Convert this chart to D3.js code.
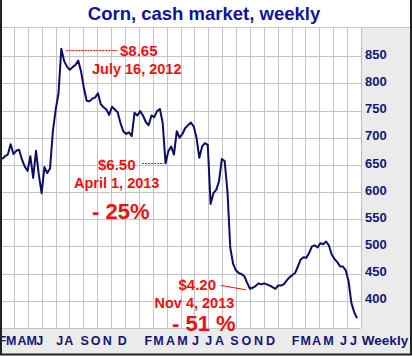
<!DOCTYPE html>
<html><head><meta charset="utf-8">
<script src="https://cdn.jsdelivr.net/npm/d3@7"></script>
<style>html,body{margin:0;padding:0;background:#fff}svg{display:block}</style>
</head><body>
<script>
// ---- data (cents per bushel, weekly, starting Mon Feb 13 2012) ----
const startDate = new Date(2012, 1, 13);
const values = [
661,666,669,688,670,676,678,660,647,639,
666,626,676,632,598,646,635,644,712,752,
782,864,841,831,825,830,834,842,822,792,
768,767,772,774,782,762,756,752,742,757,
752,747,727,712,707,710,703,746,741,749,
741,729,723,741,738,749,753,727,653,675,
684,669,712,700,707,718,723,728,721,700,
663,684,690,687,578,598,604,620,661,657,
601,497,468,456,451,449,445,433,422,424,
427,432,430,432,430,428,425,422,428,428,
430,437,443,447,451,463,476,480,479,488,
500,502,498,506,504,509,502,485,477,471,
463,463,456,436,396,379,368
];
const yTicks = [400,450,500,550,600,650,700,750,800,850];
// month letters as placed on the reference's time axis (January has no label)
const monthTickLabels = ["F","M","A","M","J","J","A","S","O","N","D",
                         "F","M","A","M","J","J","A","S","O","N","D",
                         "F","M","A","M","J","J"];
const monthTickDates = ["2012-02-12","2012-03-05","2012-04-01","2012-04-25","2012-05-15",
  "2012-07-04","2012-07-26","2012-09-04","2012-10-01","2012-10-30","2012-12-06",
  "2013-02-09","2013-03-06","2013-04-05","2013-05-05","2013-06-06","2013-07-09",
  "2013-08-05","2013-09-11","2013-10-11","2013-11-10","2013-12-10",
  "2014-02-10","2014-03-07","2014-04-03","2014-05-03","2014-06-09","2014-07-04"];
const title = "Corn, cash market, weekly";
const annotations = [
  {text:"$8.65", x:120, y:51, size:15},
  {text:"July 16, 2012", x:92, y:69, size:14.5},
  {text:"$6.50", x:98, y:165, size:15},
  {text:"April 1, 2013", x:74, y:182.5, size:14.5},
  {text:"- 25%", x:92, y:211, size:22},
  {text:"$4.20", x:178.5, y:285, size:15},
  {text:"Nov 4, 2013", x:154.5, y:303, size:14.5},
  {text:"- 51 %", x:172, y:323, size:22}
];

const W = 412, H = 356;
const plotL = 0, plotR = 361, plotT = 28, plotB = 328;
const navy = "#14147a", red = "#f01010";
const parse = d3.timeParse("%Y-%m-%d");

const data = values.map((v,i)=>({date:d3.timeDay.offset(startDate, i*7), v}));

const x = d3.scaleTime()
  .domain([startDate, d3.timeDay.offset(startDate, (values.length-1)*7)])
  .range([2.2, 357]);
const y = d3.scaleLinear().domain([350, 900]).range([327.9, 29.1]);

const svg = d3.select("body").append("svg").attr("width", W).attr("height", H)
  .style("font-family", "'Liberation Sans', Arial, sans-serif");

// backgrounds
svg.append("rect").attr("x",0).attr("y",0).attr("width",W).attr("height",H).attr("fill","#fff");
svg.append("rect").attr("x",plotR).attr("y",plotT).attr("width",W-plotR).attr("height",H-plotT).attr("fill","#ebebeb");
svg.append("rect").attr("x",0).attr("y",plotB).attr("width",W).attr("height",H-plotB).attr("fill","#ebebeb");

// grid
const g = svg.append("g");
d3.range(1, 26).forEach(i=>{
  const gx = Math.round(i*plotR/26)+0.5;
  g.append("line").attr("x1",gx).attr("x2",gx).attr("y1",plotT).attr("y2",plotB).attr("stroke","#c4c4c4");
});
yTicks.forEach(t=>{
  const gy = Math.round(y(t))+0.5;
  g.append("line").attr("x1",plotL).attr("x2",plotR).attr("y1",gy).attr("y2",gy).attr("stroke","#c4c4c4");
});
svg.append("line").attr("x1",plotR+0.5).attr("x2",plotR+0.5).attr("y1",plotT).attr("y2",plotB).attr("stroke","#bdbdbd");
svg.append("line").attr("x1",0).attr("x2",plotR).attr("y1",plotB+0.5).attr("y2",plotB+0.5).attr("stroke","#c4c4c4");
svg.append("line").attr("x1",0).attr("x2",W).attr("y1",plotT-0.5).attr("y2",plotT-0.5).attr("stroke","#c8c8e6");

// y-axis labels
const yAxis = d3.axisRight(y).tickValues(yTicks).tickSize(0).tickPadding(0);
const ya = svg.append("g").attr("transform",`translate(365,-2)`).call(yAxis);
ya.select(".domain").remove();
ya.selectAll("text").attr("fill",navy).attr("font-size",13).attr("font-weight","bold")
  .attr("font-family","'Liberation Sans', Arial, sans-serif");

// x-axis month labels
const tickDates = monthTickDates.map(parse);
const xAxis = d3.axisBottom(x).tickValues(tickDates).tickSize(0).tickPadding(0)
  .tickFormat((d,i)=>monthTickLabels[i]);
const xa = svg.append("g").attr("transform",`translate(0,336)`).call(xAxis);
xa.select(".domain").remove();
xa.selectAll("text").attr("fill",navy).attr("font-size",12.5).attr("font-weight","bold")
  .attr("font-family","'Liberation Sans', Arial, sans-serif");

svg.append("text").attr("x",385).attr("y",345).attr("text-anchor","middle")
  .attr("fill",navy).attr("font-size",13.5).attr("font-weight","bold").text("Weekly");

// price line
svg.append("path").datum(data)
  .attr("fill","none").attr("stroke","#0c0c6a").attr("stroke-width",2)
  .attr("stroke-linejoin","round")
  .attr("d", d3.line().x(d=>x(d.date)).y(d=>y(d.v)));

// annotation connectors
const peak = data[21], apr = data[58], nov = data[88];
svg.append("line").attr("x1",x(peak.date)+5).attr("x2",118).attr("y1",50.5).attr("y2",50.5)
  .attr("stroke",red).attr("stroke-width",1).attr("stroke-dasharray","2,1");
svg.append("line").attr("x1",142).attr("x2",x(apr.date)-2).attr("y1",163.5).attr("y2",163.5)
  .attr("stroke",red).attr("stroke-width",1).attr("stroke-dasharray","2,1");
svg.append("line").attr("x1",221).attr("x2",x(nov.date)-4).attr("y1",285.5).attr("y2",y(nov.v)+1)
  .attr("stroke",red).attr("stroke-width",1);

// annotation texts
annotations.forEach(a=>{
  svg.append("text").attr("x",a.x).attr("y",a.y).attr("dy","0.35em")
    .attr("fill",red).attr("font-weight","bold")
    .attr("font-size",a.size).text(a.text);
});

// title
svg.append("text").attr("x",204).attr("y",13.5).attr("dy","0.35em").attr("text-anchor","middle")
  .attr("fill","#12129c").attr("font-size",18.5).attr("font-weight","bold").text(title);

// outer border (left, right, bottom)
svg.append("path").attr("d",`M1,0 V${H-1.5} H${W-1} V0`).attr("fill","none")
  .attr("stroke","#222").attr("stroke-width",2);
</script>
</body></html>
